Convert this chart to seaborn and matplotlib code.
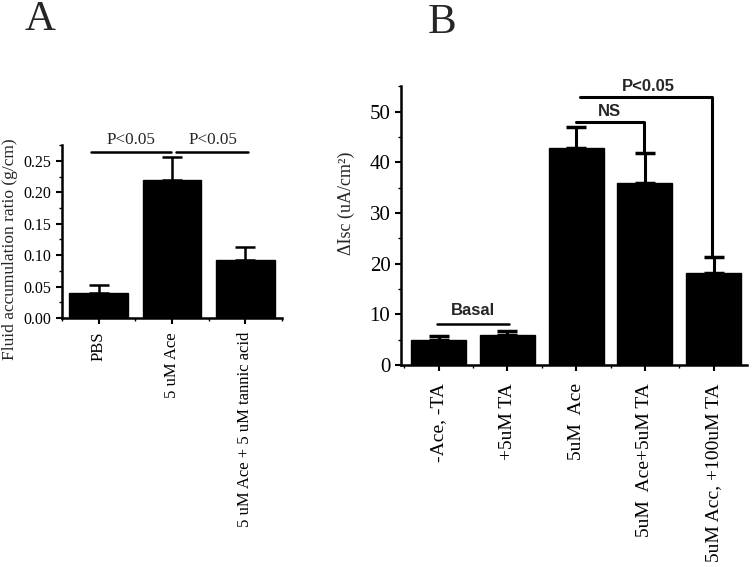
import matplotlib
matplotlib.use('Agg')
import matplotlib.pyplot as plt
from matplotlib.ticker import MultipleLocator
import seaborn as sns

# Panel A data
a_labels = ['PBS', '5 uM Ace', '5 uM Ace + 5 uM tannic acid']
a_means = [0.040, 0.220, 0.093]
a_errs = [0.013, 0.036, 0.020]

# Panel B data
b_labels = ['-Ace, -TA', '+5uM TA', '5uM  Ace', '5uM  Ace+5uM TA', '5uM Acc, +100uM TA']
b_means = [5.0, 6.0, 42.8, 36.0, 18.2]
b_errs = [0.7, 0.8, 4.2, 5.8, 3.1]

sns.set_style('ticks')
plt.rcParams['font.family'] = ['Liberation Serif', 'DejaVu Serif']

fig = plt.figure(figsize=(7.52, 5.67), dpi=100)
fig.set_facecolor('white')

def style_axis(ax, major, minor):
    sns.despine(ax=ax)
    for s in ['left', 'bottom']:
        ax.spines[s].set_linewidth(1.8)
        ax.spines[s].set_color('black')
    ax.yaxis.set_major_locator(MultipleLocator(major))
    ax.yaxis.set_minor_locator(MultipleLocator(minor))
    ax.xaxis.set_minor_locator(MultipleLocator(0.5))
    ax.tick_params(which='major', direction='out', length=4, width=1.5, colors='black')
    ax.tick_params(which='minor', direction='out', length=2, width=1, colors='black')
    ax.set_xlabel('')

# ---- Panel A ----
axA = fig.add_axes([0.0824, 0.439, 0.2926, 0.305])
sns.barplot(x=a_labels, y=a_means, color='black', edgecolor='black', width=0.8,
            saturation=1, ax=axA)
axA.errorbar(range(len(a_means)), a_means, yerr=[[0] * len(a_errs), a_errs],
             fmt='none', ecolor='black', elinewidth=1.8, capsize=7, capthick=1.8)
axA.set_xlim(-0.5, 2.5)
axA.set_ylim(0, 0.275)
style_axis(axA, 0.05, 0.025)
axA.set_yticks([0, 0.05, 0.10, 0.15, 0.20, 0.25])
axA.set_yticklabels(['0.00', '0.05', '0.10', '0.15', '0.20', '0.25'], fontsize=11.5)
axA.set_xticks(range(len(a_labels)))
axA.set_xticklabels(a_labels, rotation=90, fontsize=12)
axA.tick_params(axis='x', which='major', pad=6)
axA.set_ylabel('Fluid accumulation ratio (g/cm)', fontsize=12.5)
axA.yaxis.set_label_coords(-0.198, 0.40)

yA = 0.264
axA.plot([-0.1, 0.98], [yA, yA], color='black', lw=1.8, clip_on=False)
axA.plot([1.05, 2.03], [yA, yA], color='black', lw=1.8, clip_on=False)
axA.text(0.44, yA + 0.006, 'P<0.05', ha='center', va='bottom', fontsize=12.3)
axA.text(1.56, yA + 0.006, 'P<0.05', ha='center', va='bottom', fontsize=12.3)
fig.text(0.054, 0.966, 'A', fontsize=31, ha='center', va='center')

# ---- Panel B ----
axB = fig.add_axes([0.533, 0.356, 0.46, 0.492])
sns.barplot(x=b_labels, y=b_means, color='black', edgecolor='black', width=0.8,
            saturation=1, ax=axB)
axB.errorbar(range(len(b_means)), b_means, yerr=[[0] * len(b_errs), b_errs],
             fmt='none', ecolor='black', elinewidth=2.2, capsize=7.5, capthick=2.5)
axB.set_xlim(-0.55, 4.48)
axB.set_ylim(0, 55)
style_axis(axB, 10, 5)
axB.set_yticks([0, 10, 20, 30, 40, 50])
axB.set_yticklabels(['0', '10', '20', '30', '40', '50'], fontsize=15)
axB.set_xticks(range(len(b_labels)))
axB.set_xticklabels(b_labels, rotation=90, fontsize=14)
axB.tick_params(axis='x', which='major', pad=9)
axB.set_ylabel('ΔIsc (uA/cm²)', fontsize=13)
axB.yaxis.set_label_coords(-0.133, 0.58)

sans = ['Liberation Sans', 'DejaVu Sans']
axB.plot([-0.02, 1.03], [8.1, 8.1], color='black', lw=1.8)
axB.text(0.5, 9.2, 'Basal', ha='center', va='bottom', fontsize=12,
         fontweight='bold', family=sans)
axB.plot([2.0, 2.98, 2.98], [48.0, 48.0, 41.8], color='black', lw=2.2)
axB.text(2.48, 48.6, 'NS', ha='center', va='bottom', fontsize=12,
         fontweight='bold', family=sans)
axB.plot([2.05, 3.97, 3.97], [52.8, 52.8, 21.3], color='black', lw=2.2,
         clip_on=False)
axB.text(3.05, 53.4, 'P<0.05', ha='center', va='bottom', fontsize=12,
         fontweight='bold', family=sans, clip_on=False)
fig.text(0.588, 0.96, 'B', fontsize=31, ha='center', va='center')

fig.savefig('out.png', dpi=100, facecolor='white')
